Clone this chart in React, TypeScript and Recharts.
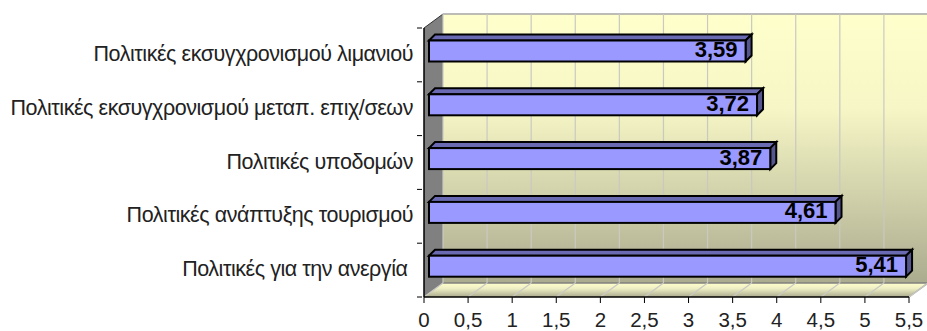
import React from 'react';
import { Bar, BarChart, CartesianGrid, LabelList, XAxis, YAxis } from 'recharts';

const categories = [
  'Πολιτικές εκσυγχρονισμού λιμανιού',
  'Πολιτικές εκσυγχρονισμού μεταπ. επιχ/σεων',
  'Πολιτικές υποδομών',
  'Πολιτικές ανάπτυξης τουρισμού',
  'Πολιτικές για την ανεργία ',
];
const scores = [3.59, 3.72, 3.87, 4.61, 5.41];
const xTicks = [0, 0.5, 1, 1.5, 2, 2.5, 3, 3.5, 4, 4.5, 5, 5.5];

const data = categories.map((name, i) => ({ name, score: scores[i] }));

// plot frame and depth of the fake 3D box around it
const W = 927;
const H = 331;
const LEFT = 424;
const TOP = 28;
const RIGHT = 909;
const BOTTOM = 297;
const DX = 19;
const DY = 14;
const FONT = '"Liberation Sans", Arial, sans-serif';

const fmt = (v: number) => String(v).replace('.', ',');

// sits behind the chart, the chart svg itself is transparent
function Walls() {
  const x = LEFT, y = TOP, r = RIGHT, b = BOTTOM;
  return (
    <svg width={W} height={H} style={{ position: 'absolute', left: 0, top: 0 }}>
      <defs>
        <linearGradient id="wall" x1="0" y1="0" x2="0" y2="1">
          <stop offset="0%" stopColor="#FFFFCC" />
          <stop offset="35%" stopColor="#F6F6C6" />
          <stop offset="100%" stopColor="#ABAB8F" />
        </linearGradient>
        <linearGradient id="floor" x1="0" y1="0" x2="0" y2="1">
          <stop offset="0%" stopColor="#FFFFCC" />
          <stop offset="40%" stopColor="#EEEEC4" />
          <stop offset="100%" stopColor="#ABAB8F" />
        </linearGradient>
      </defs>
      <polygon points={`${x + DX},${y - DY} ${r + DX},${y - DY} ${r + DX},${b - DY} ${x + DX},${b - DY}`} fill="url(#wall)" />
      <polygon points={`${x},${b} ${r},${b} ${r + DX},${b - DY} ${x + DX},${b - DY}`} fill="url(#floor)" />
      <polygon points={`${x},${y} ${x + DX},${y - DY} ${x + DX},${b - DY} ${x},${b}`} fill="#808080" />
      <line x1={x + DX} y1={y - DY} x2={r + DX} y2={y - DY} stroke="#A6A6A6" strokeWidth={1.5} />
      <line x1={x + DX} y1={b - DY} x2={r + DX} y2={b - DY} stroke="#808080" strokeWidth={1.5} />
      <line x1={r} y1={b} x2={r + DX} y2={b - DY} stroke="#A6A6A6" strokeWidth={1.5} />
      <line x1={x} y1={y} x2={x + DX} y2={y - DY} stroke="#333333" />
    </svg>
  );
}

function GridLine(props: any) {
  const { x1, y1, y2 } = props;
  return (
    <g stroke="#C9C9C2" strokeWidth={1.2}>
      <line x1={x1 + DX} y1={y1 - DY} x2={x1 + DX} y2={y2 - DY} />
      <line x1={x1 + DX} y1={y2 - DY} x2={x1} y2={y2} />
    </g>
  );
}

function Box(props: any) {
  const { x, y, width, height } = props;
  const d = 6;
  const x0 = x + 5;
  const x1 = x0 + width;
  const y0 = y - 3.5;
  const y1 = y0 + height;
  return (
    <g stroke="#000" strokeWidth={2} strokeLinejoin="miter">
      <polygon points={`${x0},${y0} ${x0 + d},${y0 - d} ${x1 + d},${y0 - d} ${x1},${y0}`} fill="#6A6AB2" />
      <polygon points={`${x1},${y0} ${x1 + d},${y0 - d} ${x1 + d},${y1 - d} ${x1},${y1}`} fill="#56568F" />
      <rect x={x0} y={y0} width={width} height={height} fill="#9999FF" />
    </g>
  );
}

function ValueLabel(props: any) {
  const { x, y, width, height, value } = props;
  return (
    <text x={x + width - 3} y={y + height / 2 + 2.5} textAnchor="end" fontFamily={FONT} fontSize={22} fontWeight="bold" fill="#000">
      {fmt(value)}
    </text>
  );
}

function CategoryTick(props: any) {
  const { x, y, payload, index } = props;
  const band = (BOTTOM - TOP) / categories.length;
  return (
    <g>
      <line x1={x + 5} x2={x + 10} y1={y - band / 2} y2={y - band / 2} stroke="#000" />
      {index === categories.length - 1 && (
        <line x1={x + 5} x2={x + 10} y1={y + band / 2} y2={y + band / 2} stroke="#000" />
      )}
      <text x={x + 1} y={y + 6} textAnchor="end" fontFamily={FONT} fontSize={21.5} letterSpacing={-0.45} fill="#222" style={{ whiteSpace: 'pre' }}>
        {payload.value}
      </text>
    </g>
  );
}

export default function App() {
  return (
    <div style={{ position: 'absolute', left: 0, top: 0, width: W, height: H, background: '#fff' }}>
      <Walls />
      <div style={{ position: 'absolute', left: 0, top: 0 }}>
        <BarChart
          width={W}
          height={H}
          layout="vertical"
          data={data}
          margin={{ top: TOP, right: W - RIGHT, bottom: 0, left: 0 }}
          barSize={21}
        >
          <CartesianGrid horizontal={false} vertical={GridLine} />
          <XAxis
            type="number"
            domain={[0, 5.5]}
            ticks={xTicks}
            tickFormatter={fmt}
            interval={0}
            axisLine={{ stroke: '#000', strokeWidth: 1.5 }}
            tickLine={{ stroke: '#000' }}
            tickSize={6}
            tickMargin={9}
            height={H - BOTTOM}
            tick={{ fontFamily: FONT, fontSize: 20.5, fill: '#222' }}
          />
          <YAxis
            type="category"
            dataKey="name"
            width={LEFT}
            axisLine={{ stroke: '#000', strokeWidth: 1.5 }}
            tickLine={false}
            tickSize={10}
            interval={0}
            tick={CategoryTick}
          />
          <Bar dataKey="score" shape={Box} isAnimationActive={false}>
            <LabelList dataKey="score" content={ValueLabel} />
          </Bar>
        </BarChart>
      </div>
    </div>
  );
}
